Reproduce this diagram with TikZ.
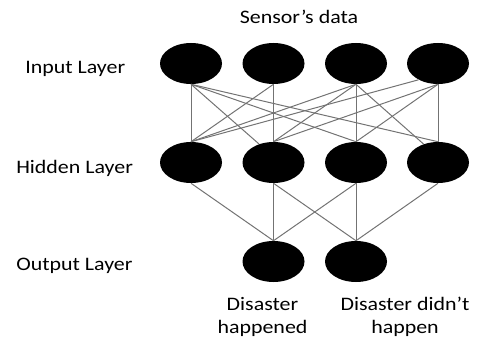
\documentclass[tikz,border=0pt]{standalone}
\usepackage{fontspec}
\setmainfont{Carlito}[FakeStretch=1.15]
\usetikzlibrary{shapes.geometric}

\begin{document}
\begin{tikzpicture}[x=0.75pt, y=-0.75pt,
  neuron/.style={ellipse, fill=black, draw=none, inner sep=0pt,
                 minimum width=46.5pt, minimum height=30.75pt},
  link/.style={draw=black!55, line width=0.75pt},
  label/.style={font=\fontsize{14.3}{16.7}\selectfont, inner sep=0pt}]

  % canvas
  \useasboundingbox (0,0) rectangle (478,342);

  % neurons
  \node[neuron] (i1) at (191,63.5) {};
  \node[neuron] (i2) at (273.5,63.5) {};
  \node[neuron] (i3) at (356,63.5) {};
  \node[neuron] (i4) at (438,63.5) {};

  \node[neuron] (h1) at (191,162.5) {};
  \node[neuron] (h2) at (273.5,162.5) {};
  \node[neuron] (h3) at (356,162.5) {};
  \node[neuron] (h4) at (438,162.5) {};

  \node[neuron] (o1) at (273.5,261.5) {};
  \node[neuron] (o2) at (356,261.5) {};

  % input -> hidden
  \draw[link] (i1.south) -- (h1.north);
  \draw[link] (i1.south) -- (h2.128);
  \draw[link] (i1.south) -- (h3.north);
  \draw[link] (i1.south) -- (h4.north);

  \draw[link] (i2.south) -- (h1.north);
  \draw[link] (i2.south) -- (h2.north);

  \draw[link] (i3.south) -- (h1.north);
  \draw[link] (i3.south) -- (h2.north);
  \draw[link] (i3.south) -- (h3.north);
  \draw[link] (i3.south) -- (h4.128);

  \draw[link] (i4.220) -- (h1.north);
  \draw[link] (i4.south) -- (h2.north);
  \draw[link] (i4.south) -- (h3.north);
  \draw[link] (i4.south) -- (h4.north);

  % hidden -> output
  \draw[link] (h1.south) -- (o1.north);
  \draw[link] (h2.south) -- (o1.north);
  \draw[link] (h2.south) -- (o2.north);
  \draw[link] (h3.south) -- (o1.north);
  \draw[link] (h3.south) -- (o2.north);
  \draw[link] (h4.south) -- (o2.north);

  % labels
  \node[label, anchor=base] (sensor) at (299,24) {Sensor’s data};
  \node[label, anchor=base west] (inl) at (25,73.5) {Input Layer};
  \node[label, anchor=base west] (hidl) at (16,173.3) {Hidden Layer};
  \node[label, anchor=base west] (outl) at (16,270.7) {Output Layer};
  % two-line captions: base anchor sits on the last line
  \node[label, anchor=base, align=center] (yes) at (262.5,333) {Disaster\\happened};
  \node[label, anchor=base, align=center] (no) at (405,333) {Disaster didn’t\\happen};
\end{tikzpicture}
\end{document}
